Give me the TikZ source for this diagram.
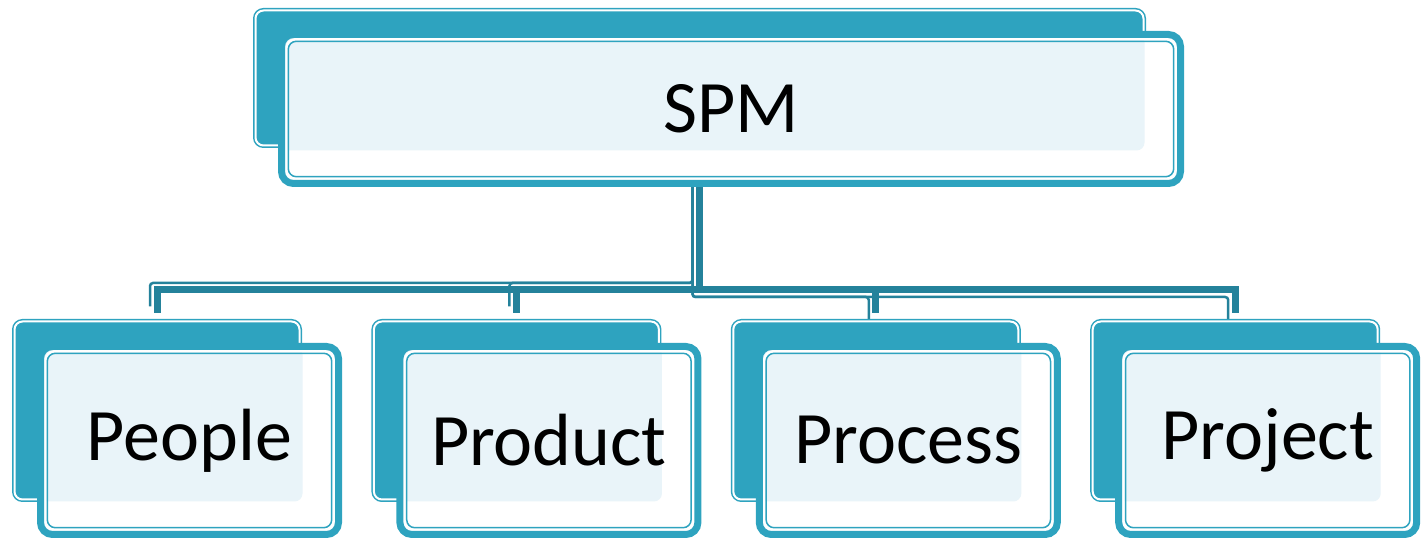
\documentclass[tikz,border=0pt]{standalone}
\usepackage{fontspec}
\setmainfont{Carlito}
\usepackage{tikz}
\usetikzlibrary{positioning, backgrounds}
\usepackage{xcolor}
\definecolor{spmteal}{RGB}{46,163,191}
\definecolor{spmdark}{RGB}{36,130,155}
\definecolor{spmlight}{RGB}{233,244,249}
\tikzset{
  backbox/.style  = {draw=spmteal, double=white, double distance=1pt,
                     line width=.75pt, fill=spmteal, rounded corners=4pt,
                     outer sep=0pt, minimum width=142.5pt, minimum height=89pt},
  frontbox/.style = {draw=spmteal, line width=3.5pt, fill=white,
                     rounded corners=6pt, outer sep=0pt,
                     minimum width=149pt, minimum height=94pt,
                     font=\fontsize{37}{44}\selectfont,
                     path picture={
                       \fill[spmlight, rounded corners=4pt]
                         (path picture bounding box.north west) rectangle
                         ([shift={(-18pt,16.5pt)}]path picture bounding box.south east);
                       \draw[white, line width=1.25pt, rounded corners=5pt]
                         ([shift={(2.375pt,-2.375pt)}]path picture bounding box.north west) rectangle
                         ([shift={(-2.375pt,2.375pt)}]path picture bounding box.south east);
                       \draw[spmteal, line width=.75pt, rounded corners=4pt]
                         ([shift={(3.4pt,-3.4pt)}]path picture bounding box.north west) rectangle
                         ([shift={(-3.4pt,3.4pt)}]path picture bounding box.south east);
                     }},
  linkthick/.style = {draw=spmdark, line width=3.5pt, shorten >=4pt},
  linkthin/.style  = {draw=spmdark, line width=1.25pt, rounded corners=1.5pt, shorten >=4pt},
  thinleft/.style  = {linkthin, transform canvas={shift={(-3.5pt,3.5pt)}}},
  thinright/.style = {linkthin, transform canvas={shift={(-3.5pt,-3.5pt)}}},
}

\begin{document}
\begin{tikzpicture}
    \useasboundingbox (0,0) rectangle (713pt,-269.5pt);
    % back boxes
    \node[backbox, minimum width=444pt, minimum height=67.5pt] (spmback) at (349.75pt,-39pt) {};
    \node[backbox] (peopleback) at (78.5pt,-205.25pt) {};
    \node[backbox, right=37.2pt of peopleback] (productback) {};
    \node[backbox, right=37.2pt of productback] (processback) {};
    \node[backbox, right=37.2pt of processback] (projectback) {};
    % front boxes
    \node[frontbox, minimum width=449.5pt, minimum height=74.5pt]
      (spm) at ([shift={(15.75pt,-15.5pt)}]spmback.center) {SPM};
    \node[frontbox] (people)  at ([shift={(16.25pt,-15pt)}]peopleback.center)  {People};
    \node[frontbox] (product) at ([shift={(16.25pt,-15pt)}]productback.center) {Product};
    \node[frontbox] (process) at ([shift={(16.25pt,-15pt)}]processback.center) {Process};
    \node[frontbox] (project) at ([shift={(16.25pt,-15pt)}]projectback.center) {Project};
    % tree lines
    \coordinate (bus) at (0,-145pt);
    \begin{scope}[on background layer]
      \draw[thinleft]   (spmback.south) -- (spmback.south |- bus) -| (peopleback.north);
      \draw[thinleft]   (spmback.south) -- (spmback.south |- bus) -| (productback.north);
      \draw[thinright]  (spmback.south) -- (spmback.south |- bus) -| (processback.north);
      \draw[thinright]  (spmback.south) -- (spmback.south |- bus) -| (projectback.north);
      \draw[linkthick]  (spmback.south) -- (spmback.south |- bus) -| (peopleback.north);
      \draw[linkthick]  (spmback.south) -- (spmback.south |- bus) -| (productback.north);
      \draw[linkthick]  (spmback.south) -- (spmback.south |- bus) -| (processback.north);
      \draw[linkthick]  (spmback.south) -- (spmback.south |- bus) -| (projectback.north);
    \end{scope}
  \end{tikzpicture}
\end{document}
